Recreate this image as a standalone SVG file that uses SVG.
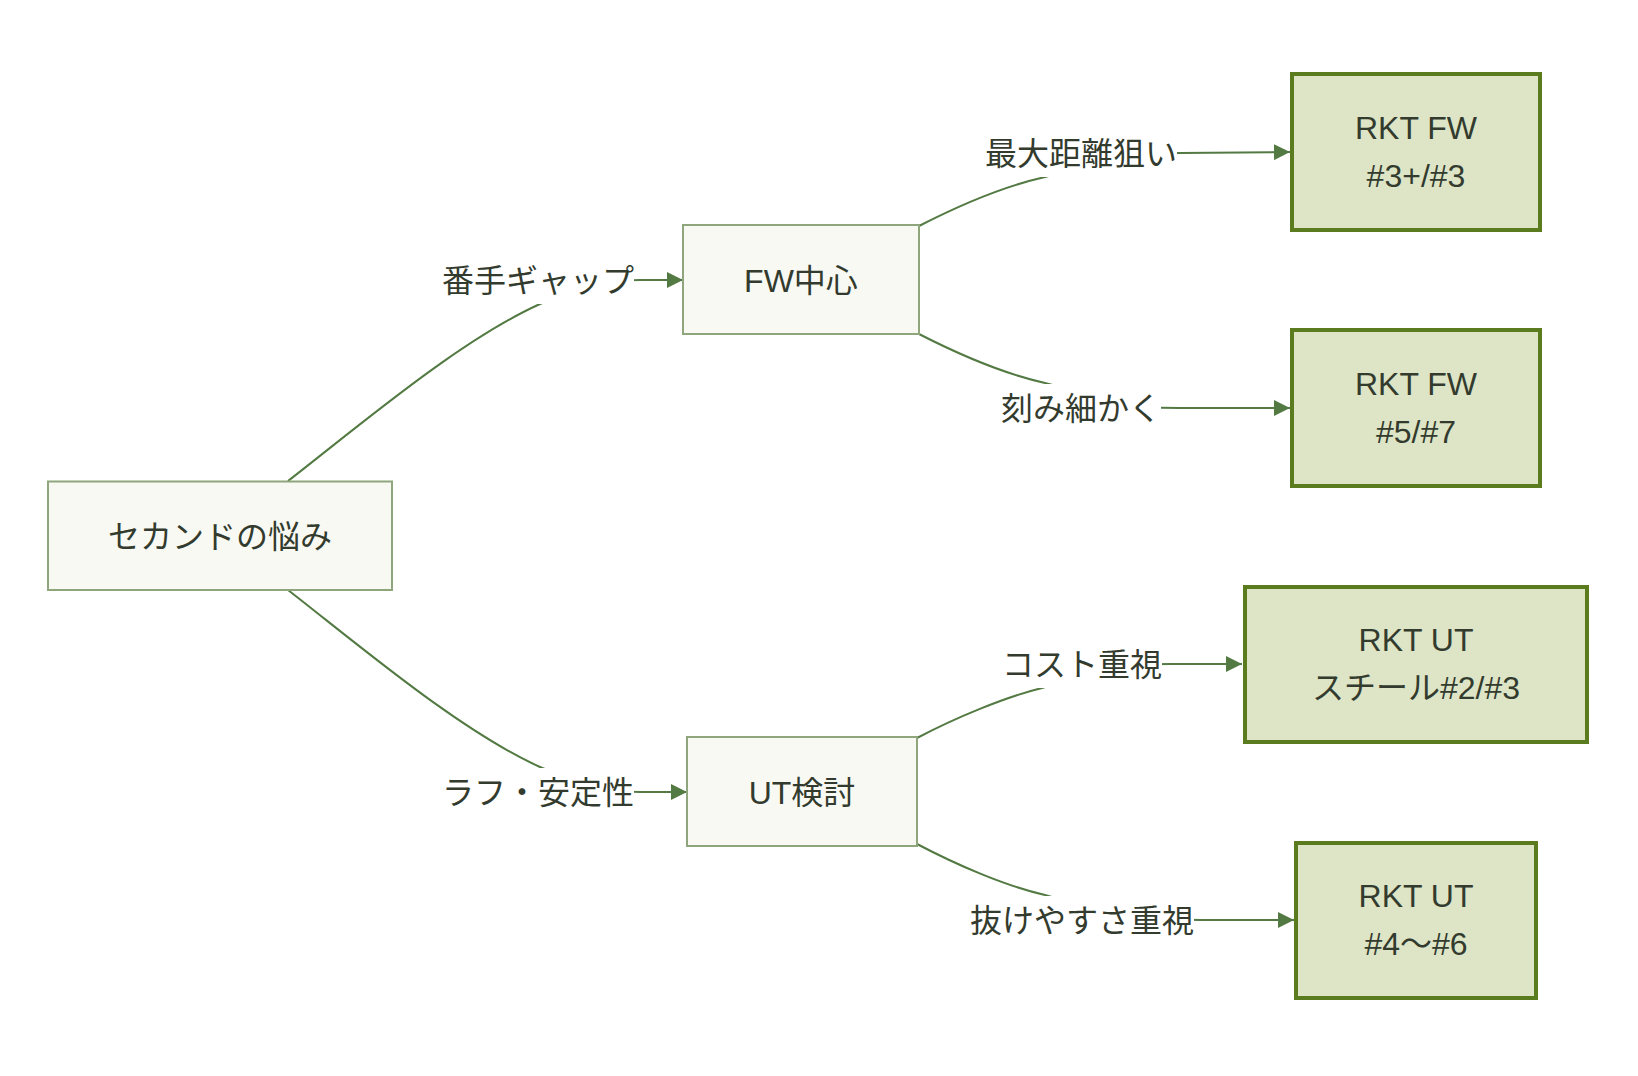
<svg xmlns="http://www.w3.org/2000/svg" width="1638" height="1076" viewBox="0 0 1638 1076">
<defs>
<style>
.bg{fill:#ffffff}
.n1 rect{fill:#f8f9f3;stroke:#8fa57c;stroke-width:2}
.n2 rect{fill:#dde5c6;stroke:#5b7b1f;stroke-width:4}
text{font-family:"Liberation Sans","Noto Sans CJK JP",sans-serif;font-size:32px;fill:#333b2e;text-anchor:middle}
.edge{fill:none;stroke:#537a43;stroke-width:2}
.lbl rect{fill:#ffffff}
</style>
<marker id="arr" markerUnits="userSpaceOnUse" viewBox="0 0 16 16" refX="16" refY="8" markerWidth="16" markerHeight="16" orient="auto">
<path d="M0,0 L16,8 L0,16 Z" fill="#537a43"/>
</marker>
</defs>
<rect class="bg" x="0" y="0" width="1638" height="1076"/>
<g id="connectors">
<path class="edge" d="M288,481 C360,425 460,340 540,304 C580,288 600,280 640,280 L683,280" marker-end="url(#arr)"/>
<path class="edge" d="M288,590 C360,646 460,731 540,767 C580,784 600,792 640,792 L687,792" marker-end="url(#arr)"/>
<path class="edge" d="M919,226 C960,205 1005,186 1045,177 C1080,168 1100,153 1180,153 L1290,152" marker-end="url(#arr)"/>
<path class="edge" d="M919,334 C960,355 1005,374 1045,383 C1080,392 1100,408 1180,408 L1290,408" marker-end="url(#arr)"/>
<path class="edge" d="M917,738 C955,718 1005,697 1042,688 C1080,678 1100,664 1170,664 L1242,664" marker-end="url(#arr)"/>
<path class="edge" d="M917,844 C955,864 1005,886 1045,895 C1080,904 1100,920 1200,920 L1294,920" marker-end="url(#arr)"/>
</g>
<g id="edge-labels">
<g class="lbl" id="l1"><rect x="442" y="256" width="192" height="48"/><text x="538" y="291.5">番手ギャップ</text></g>
<g class="lbl" id="l2"><rect x="442" y="768" width="192" height="48"/><text x="538" y="803.5">ラフ・安定性</text></g>
<g class="lbl" id="l3"><rect x="985" y="129" width="192" height="48"/><text x="1081" y="164.5">最大距離狙い</text></g>
<g class="lbl" id="l4"><rect x="1001" y="384" width="160" height="48"/><text x="1081" y="419.5">刻み細かく</text></g>
<g class="lbl" id="l5"><rect x="1002" y="640" width="160" height="48"/><text x="1082" y="675.5">コスト重視</text></g>
<g class="lbl" id="l6"><rect x="970" y="896" width="224" height="48"/><text x="1082" y="931.5">抜けやすさ重視</text></g>
</g>
<g id="root" class="n1"><rect x="48" y="481.5" width="344" height="108.5"/><text x="220" y="547.5">セカンドの悩み</text></g>
<g id="fw" class="n1"><rect x="683" y="225" width="236" height="109"/><text x="801" y="291.5">FW中心</text></g>
<g id="ut" class="n1"><rect x="687" y="737" width="230" height="109"/><text x="802" y="803.5">UT検討</text></g>
<g id="fw1" class="n2"><rect x="1292" y="74" width="248" height="156"/><text x="1416" y="139">RKT FW</text><text x="1416" y="187">#3+/#3</text></g>
<g id="fw2" class="n2"><rect x="1292" y="330" width="248" height="156"/><text x="1416" y="395">RKT FW</text><text x="1416" y="443">#5/#7</text></g>
<g id="ut1" class="n2"><rect x="1245" y="587" width="342" height="155"/><text x="1416" y="651">RKT UT</text><text x="1416" y="699">スチール#2/#3</text></g>
<g id="ut2" class="n2"><rect x="1296" y="843" width="240" height="155"/><text x="1416" y="907">RKT UT</text><text x="1416" y="955">#4〜#6</text></g>
</svg>
